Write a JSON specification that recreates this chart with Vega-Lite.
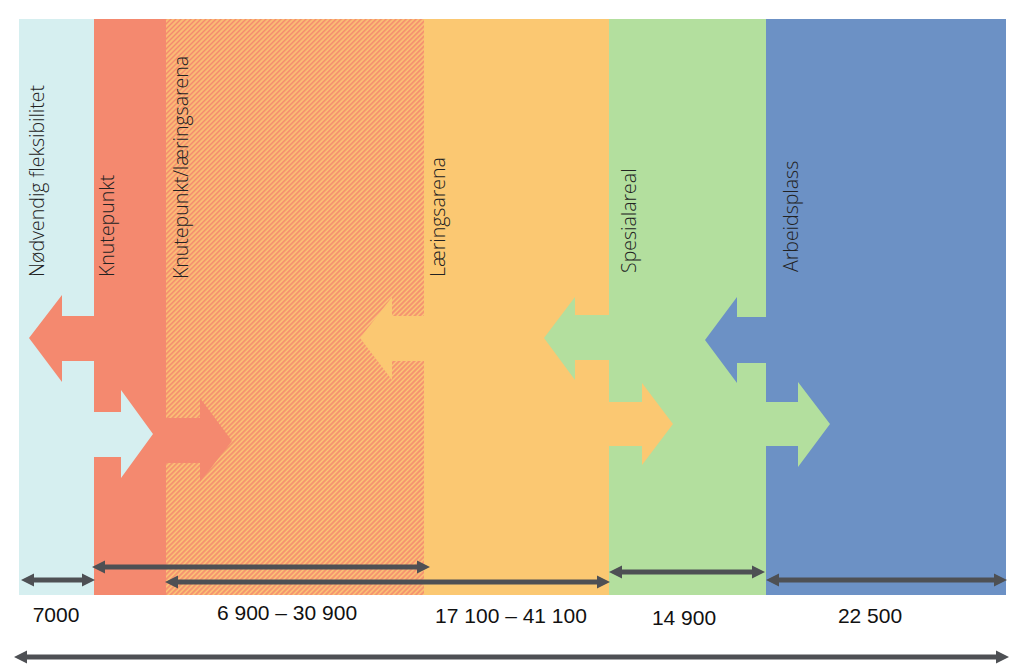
{
  "$schema": "https://vega.github.io/schema/vega-lite/v6.json",
  "width": 1024,
  "height": 672,
  "autosize": {"type": "fit", "contains": "padding"},
  "padding": 0,
  "background": "white",
  "config": {"view": {"stroke": null}},
  "datasets": {
    "bands": [
      {"name": "Nødvendig fleksibilitet", "x1": 19, "x2": 94, "y1": 19, "y2": 595},
      {"name": "Knutepunkt", "x1": 94, "x2": 166, "y1": 19, "y2": 595},
      {"name": "Læringsarena", "x1": 424, "x2": 609, "y1": 19, "y2": 595},
      {"name": "Spesialareal", "x1": 609, "x2": 766, "y1": 19, "y2": 595},
      {"name": "Arbeidsplass", "x1": 766, "x2": 1006, "y1": 19, "y2": 595}
    ],
    "hatch": [
      {"name": "Knutepunkt/læringsarena", "x1": 166, "x2": 424, "y1": 19, "y2": 595}
    ],
    "arrows": [
      {"arrow": "a1", "band": "Knutepunkt", "x": 29, "top": 338, "bottom": 338},
      {"arrow": "a1", "band": "Knutepunkt", "x": 62, "top": 295, "bottom": 382},
      {"arrow": "a1", "band": "Knutepunkt", "x": 62.01, "top": 316, "bottom": 361},
      {"arrow": "a1", "band": "Knutepunkt", "x": 95, "top": 316, "bottom": 361},
      {"arrow": "a2", "band": "Nødvendig fleksibilitet", "x": 93, "top": 412, "bottom": 457},
      {"arrow": "a2", "band": "Nødvendig fleksibilitet", "x": 121, "top": 412, "bottom": 457},
      {"arrow": "a2", "band": "Nødvendig fleksibilitet", "x": 121.01, "top": 390, "bottom": 478},
      {"arrow": "a2", "band": "Nødvendig fleksibilitet", "x": 153, "top": 434, "bottom": 434},
      {"arrow": "a3", "band": "Knutepunkt", "x": 165, "top": 418, "bottom": 463},
      {"arrow": "a3", "band": "Knutepunkt", "x": 200, "top": 418, "bottom": 463},
      {"arrow": "a3", "band": "Knutepunkt", "x": 200.01, "top": 398, "bottom": 482},
      {"arrow": "a3", "band": "Knutepunkt", "x": 232, "top": 441, "bottom": 441},
      {"arrow": "a4", "band": "Læringsarena", "x": 360, "top": 338, "bottom": 338},
      {"arrow": "a4", "band": "Læringsarena", "x": 392, "top": 297, "bottom": 380},
      {"arrow": "a4", "band": "Læringsarena", "x": 392.01, "top": 316, "bottom": 361},
      {"arrow": "a4", "band": "Læringsarena", "x": 425, "top": 316, "bottom": 361},
      {"arrow": "a5", "band": "Spesialareal", "x": 544, "top": 338, "bottom": 338},
      {"arrow": "a5", "band": "Spesialareal", "x": 575, "top": 297, "bottom": 380},
      {"arrow": "a5", "band": "Spesialareal", "x": 575.01, "top": 315, "bottom": 360},
      {"arrow": "a5", "band": "Spesialareal", "x": 610, "top": 315, "bottom": 360},
      {"arrow": "a6", "band": "Læringsarena", "x": 608, "top": 402, "bottom": 446},
      {"arrow": "a6", "band": "Læringsarena", "x": 642, "top": 402, "bottom": 446},
      {"arrow": "a6", "band": "Læringsarena", "x": 642.01, "top": 383, "bottom": 465},
      {"arrow": "a6", "band": "Læringsarena", "x": 673, "top": 424, "bottom": 424},
      {"arrow": "a7", "band": "Arbeidsplass", "x": 705, "top": 340, "bottom": 340},
      {"arrow": "a7", "band": "Arbeidsplass", "x": 737, "top": 297, "bottom": 383},
      {"arrow": "a7", "band": "Arbeidsplass", "x": 737.01, "top": 317, "bottom": 363},
      {"arrow": "a7", "band": "Arbeidsplass", "x": 767, "top": 317, "bottom": 363},
      {"arrow": "a8", "band": "Spesialareal", "x": 765, "top": 402, "bottom": 446},
      {"arrow": "a8", "band": "Spesialareal", "x": 798, "top": 402, "bottom": 446},
      {"arrow": "a8", "band": "Spesialareal", "x": 798.01, "top": 382, "bottom": 467},
      {"arrow": "a8", "band": "Spesialareal", "x": 830, "top": 424, "bottom": 424}
    ],
    "labels": [
      {"text": "Nødvendig fleksibilitet", "x": 38, "y": 277},
      {"text": "Knutepunkt", "x": 108, "y": 277},
      {"text": "Knutepunkt/læringsarena", "x": 182, "y": 279},
      {"text": "Læringsarena", "x": 439, "y": 277},
      {"text": "Spesialareal", "x": 630, "y": 273},
      {"text": "Arbeidsplass", "x": 792, "y": 272}
    ],
    "numbers": [
      {"text": "7000", "x": 56, "y": 616},
      {"text": "6 900 – 30 900", "x": 287, "y": 614},
      {"text": "17 100 – 41 100", "x": 511, "y": 617},
      {"text": "14 900", "x": 684, "y": 619},
      {"text": "22 500", "x": 870, "y": 617}
    ],
    "dims": [
      {"x1": 21, "x2": 95, "y": 580},
      {"x1": 92, "x2": 430, "y": 567},
      {"x1": 165, "x2": 610, "y": 582},
      {"x1": 609, "x2": 765, "y": 572},
      {"x1": 766, "x2": 1007, "y": 580},
      {"x1": 14, "x2": 1009, "y": 657}
    ]
  },
  "layer": [
    {
      "data": {"name": "bands"},
      "mark": {"type": "rect"},
      "encoding": {
        "x": {"field": "x1", "type": "quantitative", "scale": {"domain": [0, 1024], "nice": false, "zero": false}, "axis": null},
        "x2": {"field": "x2"},
        "y": {"field": "y1", "type": "quantitative", "scale": {"domain": [0, 672], "nice": false, "zero": false, "reverse": true}, "axis": null},
        "y2": {"field": "y2"},
        "color": {"field": "name", "type": "nominal", "legend": null,
          "scale": {"domain": ["Nødvendig fleksibilitet", "Knutepunkt", "Læringsarena", "Spesialareal", "Arbeidsplass"],
                    "range": ["#d6eff0", "#f4896f", "#fbc872", "#b3df9e", "#6c91c5"]}}
      }
    },
    {
      "data": {"name": "hatch"},
      "mark": {"type": "rect", "fill": {"gradient": "linear", "x1": 0, "y1": 0, "x2": 0.54, "y2": 1.206, "stops": [
{"offset":0,"color":"#f4896f"},{"offset":0.003,"color":"#fbc776"},{"offset":0.006,"color":"#f4896f"},{"offset":0.009,"color":"#fbc776"},{"offset":0.012,"color":"#f4896f"},{"offset":0.015,"color":"#fbc776"},{"offset":0.018,"color":"#f4896f"},{"offset":0.021,"color":"#fbc776"},{"offset":0.024,"color":"#f4896f"},{"offset":0.027,"color":"#fbc776"},
{"offset":0.03,"color":"#f4896f"},{"offset":0.033,"color":"#fbc776"},{"offset":0.036,"color":"#f4896f"},{"offset":0.039,"color":"#fbc776"},{"offset":0.042,"color":"#f4896f"},{"offset":0.045,"color":"#fbc776"},{"offset":0.048,"color":"#f4896f"},{"offset":0.051,"color":"#fbc776"},{"offset":0.054,"color":"#f4896f"},{"offset":0.057,"color":"#fbc776"},
{"offset":0.06,"color":"#f4896f"},{"offset":0.063,"color":"#fbc776"},{"offset":0.066,"color":"#f4896f"},{"offset":0.069,"color":"#fbc776"},{"offset":0.072,"color":"#f4896f"},{"offset":0.075,"color":"#fbc776"},{"offset":0.078,"color":"#f4896f"},{"offset":0.081,"color":"#fbc776"},{"offset":0.084,"color":"#f4896f"},{"offset":0.087,"color":"#fbc776"},
{"offset":0.09,"color":"#f4896f"},{"offset":0.093,"color":"#fbc776"},{"offset":0.096,"color":"#f4896f"},{"offset":0.099,"color":"#fbc776"},{"offset":0.102,"color":"#f4896f"},{"offset":0.105,"color":"#fbc776"},{"offset":0.108,"color":"#f4896f"},{"offset":0.111,"color":"#fbc776"},{"offset":0.114,"color":"#f4896f"},{"offset":0.117,"color":"#fbc776"},
{"offset":0.12,"color":"#f4896f"},{"offset":0.123,"color":"#fbc776"},{"offset":0.126,"color":"#f4896f"},{"offset":0.129,"color":"#fbc776"},{"offset":0.132,"color":"#f4896f"},{"offset":0.135,"color":"#fbc776"},{"offset":0.138,"color":"#f4896f"},{"offset":0.141,"color":"#fbc776"},{"offset":0.144,"color":"#f4896f"},{"offset":0.147,"color":"#fbc776"},
{"offset":0.15,"color":"#f4896f"},{"offset":0.153,"color":"#fbc776"},{"offset":0.156,"color":"#f4896f"},{"offset":0.159,"color":"#fbc776"},{"offset":0.162,"color":"#f4896f"},{"offset":0.165,"color":"#fbc776"},{"offset":0.168,"color":"#f4896f"},{"offset":0.171,"color":"#fbc776"},{"offset":0.174,"color":"#f4896f"},{"offset":0.177,"color":"#fbc776"},
{"offset":0.18,"color":"#f4896f"},{"offset":0.183,"color":"#fbc776"},{"offset":0.186,"color":"#f4896f"},{"offset":0.189,"color":"#fbc776"},{"offset":0.192,"color":"#f4896f"},{"offset":0.195,"color":"#fbc776"},{"offset":0.198,"color":"#f4896f"},{"offset":0.201,"color":"#fbc776"},{"offset":0.204,"color":"#f4896f"},{"offset":0.207,"color":"#fbc776"},
{"offset":0.21,"color":"#f4896f"},{"offset":0.213,"color":"#fbc776"},{"offset":0.216,"color":"#f4896f"},{"offset":0.219,"color":"#fbc776"},{"offset":0.222,"color":"#f4896f"},{"offset":0.225,"color":"#fbc776"},{"offset":0.228,"color":"#f4896f"},{"offset":0.231,"color":"#fbc776"},{"offset":0.234,"color":"#f4896f"},{"offset":0.237,"color":"#fbc776"},
{"offset":0.24,"color":"#f4896f"},{"offset":0.243,"color":"#fbc776"},{"offset":0.246,"color":"#f4896f"},{"offset":0.249,"color":"#fbc776"},{"offset":0.252,"color":"#f4896f"},{"offset":0.255,"color":"#fbc776"},{"offset":0.258,"color":"#f4896f"},{"offset":0.261,"color":"#fbc776"},{"offset":0.264,"color":"#f4896f"},{"offset":0.267,"color":"#fbc776"},
{"offset":0.27,"color":"#f4896f"},{"offset":0.273,"color":"#fbc776"},{"offset":0.276,"color":"#f4896f"},{"offset":0.279,"color":"#fbc776"},{"offset":0.282,"color":"#f4896f"},{"offset":0.285,"color":"#fbc776"},{"offset":0.288,"color":"#f4896f"},{"offset":0.291,"color":"#fbc776"},{"offset":0.294,"color":"#f4896f"},{"offset":0.297,"color":"#fbc776"},
{"offset":0.3,"color":"#f4896f"},{"offset":0.303,"color":"#fbc776"},{"offset":0.306,"color":"#f4896f"},{"offset":0.309,"color":"#fbc776"},{"offset":0.312,"color":"#f4896f"},{"offset":0.315,"color":"#fbc776"},{"offset":0.318,"color":"#f4896f"},{"offset":0.321,"color":"#fbc776"},{"offset":0.324,"color":"#f4896f"},{"offset":0.327,"color":"#fbc776"},
{"offset":0.33,"color":"#f4896f"},{"offset":0.333,"color":"#fbc776"},{"offset":0.336,"color":"#f4896f"},{"offset":0.339,"color":"#fbc776"},{"offset":0.342,"color":"#f4896f"},{"offset":0.345,"color":"#fbc776"},{"offset":0.348,"color":"#f4896f"},{"offset":0.351,"color":"#fbc776"},{"offset":0.354,"color":"#f4896f"},{"offset":0.357,"color":"#fbc776"},
{"offset":0.36,"color":"#f4896f"},{"offset":0.363,"color":"#fbc776"},{"offset":0.366,"color":"#f4896f"},{"offset":0.369,"color":"#fbc776"},{"offset":0.372,"color":"#f4896f"},{"offset":0.375,"color":"#fbc776"},{"offset":0.378,"color":"#f4896f"},{"offset":0.381,"color":"#fbc776"},{"offset":0.384,"color":"#f4896f"},{"offset":0.387,"color":"#fbc776"},
{"offset":0.39,"color":"#f4896f"},{"offset":0.393,"color":"#fbc776"},{"offset":0.396,"color":"#f4896f"},{"offset":0.399,"color":"#fbc776"},{"offset":0.402,"color":"#f4896f"},{"offset":0.405,"color":"#fbc776"},{"offset":0.408,"color":"#f4896f"},{"offset":0.411,"color":"#fbc776"},{"offset":0.414,"color":"#f4896f"},{"offset":0.417,"color":"#fbc776"},
{"offset":0.42,"color":"#f4896f"},{"offset":0.423,"color":"#fbc776"},{"offset":0.426,"color":"#f4896f"},{"offset":0.429,"color":"#fbc776"},{"offset":0.432,"color":"#f4896f"},{"offset":0.435,"color":"#fbc776"},{"offset":0.438,"color":"#f4896f"},{"offset":0.441,"color":"#fbc776"},{"offset":0.444,"color":"#f4896f"},{"offset":0.447,"color":"#fbc776"},
{"offset":0.45,"color":"#f4896f"},{"offset":0.453,"color":"#fbc776"},{"offset":0.456,"color":"#f4896f"},{"offset":0.459,"color":"#fbc776"},{"offset":0.462,"color":"#f4896f"},{"offset":0.465,"color":"#fbc776"},{"offset":0.468,"color":"#f4896f"},{"offset":0.471,"color":"#fbc776"},{"offset":0.474,"color":"#f4896f"},{"offset":0.477,"color":"#fbc776"},
{"offset":0.48,"color":"#f4896f"},{"offset":0.483,"color":"#fbc776"},{"offset":0.486,"color":"#f4896f"},{"offset":0.489,"color":"#fbc776"},{"offset":0.492,"color":"#f4896f"},{"offset":0.495,"color":"#fbc776"},{"offset":0.498,"color":"#f4896f"},{"offset":0.501,"color":"#fbc776"},{"offset":0.504,"color":"#f4896f"},{"offset":0.507,"color":"#fbc776"},
{"offset":0.51,"color":"#f4896f"},{"offset":0.513,"color":"#fbc776"},{"offset":0.516,"color":"#f4896f"},{"offset":0.519,"color":"#fbc776"},{"offset":0.522,"color":"#f4896f"},{"offset":0.525,"color":"#fbc776"},{"offset":0.528,"color":"#f4896f"},{"offset":0.531,"color":"#fbc776"},{"offset":0.534,"color":"#f4896f"},{"offset":0.537,"color":"#fbc776"},
{"offset":0.54,"color":"#f4896f"},{"offset":0.543,"color":"#fbc776"},{"offset":0.546,"color":"#f4896f"},{"offset":0.549,"color":"#fbc776"},{"offset":0.552,"color":"#f4896f"},{"offset":0.555,"color":"#fbc776"},{"offset":0.558,"color":"#f4896f"},{"offset":0.561,"color":"#fbc776"},{"offset":0.564,"color":"#f4896f"},{"offset":0.567,"color":"#fbc776"},
{"offset":0.57,"color":"#f4896f"},{"offset":0.573,"color":"#fbc776"},{"offset":0.576,"color":"#f4896f"},{"offset":0.579,"color":"#fbc776"},{"offset":0.582,"color":"#f4896f"},{"offset":0.585,"color":"#fbc776"},{"offset":0.588,"color":"#f4896f"},{"offset":0.591,"color":"#fbc776"},{"offset":0.594,"color":"#f4896f"},{"offset":0.597,"color":"#fbc776"},
{"offset":0.6,"color":"#f4896f"},{"offset":0.603,"color":"#fbc776"},{"offset":0.606,"color":"#f4896f"},{"offset":0.609,"color":"#fbc776"},{"offset":0.612,"color":"#f4896f"},{"offset":0.615,"color":"#fbc776"},{"offset":0.618,"color":"#f4896f"},{"offset":0.621,"color":"#fbc776"},{"offset":0.624,"color":"#f4896f"},{"offset":0.627,"color":"#fbc776"},
{"offset":0.63,"color":"#f4896f"},{"offset":0.633,"color":"#fbc776"},{"offset":0.636,"color":"#f4896f"},{"offset":0.639,"color":"#fbc776"},{"offset":0.642,"color":"#f4896f"},{"offset":0.645,"color":"#fbc776"},{"offset":0.648,"color":"#f4896f"},{"offset":0.651,"color":"#fbc776"},{"offset":0.654,"color":"#f4896f"},{"offset":0.657,"color":"#fbc776"},
{"offset":0.66,"color":"#f4896f"},{"offset":0.663,"color":"#fbc776"},{"offset":0.666,"color":"#f4896f"},{"offset":0.669,"color":"#fbc776"},{"offset":0.672,"color":"#f4896f"},{"offset":0.675,"color":"#fbc776"},{"offset":0.678,"color":"#f4896f"},{"offset":0.681,"color":"#fbc776"},{"offset":0.684,"color":"#f4896f"},{"offset":0.687,"color":"#fbc776"},
{"offset":0.69,"color":"#f4896f"},{"offset":0.693,"color":"#fbc776"},{"offset":0.696,"color":"#f4896f"},{"offset":0.699,"color":"#fbc776"},{"offset":0.702,"color":"#f4896f"},{"offset":0.705,"color":"#fbc776"},{"offset":0.708,"color":"#f4896f"},{"offset":0.711,"color":"#fbc776"},{"offset":0.714,"color":"#f4896f"},{"offset":0.717,"color":"#fbc776"},
{"offset":0.72,"color":"#f4896f"},{"offset":0.723,"color":"#fbc776"},{"offset":0.726,"color":"#f4896f"},{"offset":0.729,"color":"#fbc776"},{"offset":0.732,"color":"#f4896f"},{"offset":0.735,"color":"#fbc776"},{"offset":0.738,"color":"#f4896f"},{"offset":0.741,"color":"#fbc776"},{"offset":0.744,"color":"#f4896f"},{"offset":0.747,"color":"#fbc776"},
{"offset":0.75,"color":"#f4896f"},{"offset":0.753,"color":"#fbc776"},{"offset":0.756,"color":"#f4896f"},{"offset":0.759,"color":"#fbc776"},{"offset":0.762,"color":"#f4896f"},{"offset":0.765,"color":"#fbc776"},{"offset":0.768,"color":"#f4896f"},{"offset":0.771,"color":"#fbc776"},{"offset":0.774,"color":"#f4896f"},{"offset":0.777,"color":"#fbc776"},
{"offset":0.78,"color":"#f4896f"},{"offset":0.783,"color":"#fbc776"},{"offset":0.786,"color":"#f4896f"},{"offset":0.789,"color":"#fbc776"},{"offset":0.792,"color":"#f4896f"},{"offset":0.795,"color":"#fbc776"},{"offset":0.798,"color":"#f4896f"},{"offset":0.801,"color":"#fbc776"},{"offset":0.804,"color":"#f4896f"},{"offset":0.807,"color":"#fbc776"},
{"offset":0.81,"color":"#f4896f"},{"offset":0.813,"color":"#fbc776"},{"offset":0.816,"color":"#f4896f"},{"offset":0.819,"color":"#fbc776"},{"offset":0.822,"color":"#f4896f"},{"offset":0.825,"color":"#fbc776"},{"offset":0.828,"color":"#f4896f"},{"offset":0.831,"color":"#fbc776"},{"offset":0.834,"color":"#f4896f"},{"offset":0.837,"color":"#fbc776"},
{"offset":0.84,"color":"#f4896f"},{"offset":0.843,"color":"#fbc776"},{"offset":0.846,"color":"#f4896f"},{"offset":0.849,"color":"#fbc776"},{"offset":0.852,"color":"#f4896f"},{"offset":0.855,"color":"#fbc776"},{"offset":0.858,"color":"#f4896f"},{"offset":0.861,"color":"#fbc776"},{"offset":0.864,"color":"#f4896f"},{"offset":0.867,"color":"#fbc776"},
{"offset":0.87,"color":"#f4896f"},{"offset":0.873,"color":"#fbc776"},{"offset":0.876,"color":"#f4896f"},{"offset":0.879,"color":"#fbc776"},{"offset":0.882,"color":"#f4896f"},{"offset":0.885,"color":"#fbc776"},{"offset":0.888,"color":"#f4896f"},{"offset":0.891,"color":"#fbc776"},{"offset":0.894,"color":"#f4896f"},{"offset":0.897,"color":"#fbc776"},
{"offset":0.9,"color":"#f4896f"},{"offset":0.903,"color":"#fbc776"},{"offset":0.906,"color":"#f4896f"},{"offset":0.909,"color":"#fbc776"},{"offset":0.912,"color":"#f4896f"},{"offset":0.915,"color":"#fbc776"},{"offset":0.918,"color":"#f4896f"},{"offset":0.921,"color":"#fbc776"},{"offset":0.924,"color":"#f4896f"},{"offset":0.927,"color":"#fbc776"},
{"offset":0.93,"color":"#f4896f"},{"offset":0.933,"color":"#fbc776"},{"offset":0.936,"color":"#f4896f"},{"offset":0.939,"color":"#fbc776"},{"offset":0.942,"color":"#f4896f"},{"offset":0.945,"color":"#fbc776"},{"offset":0.948,"color":"#f4896f"},{"offset":0.951,"color":"#fbc776"},{"offset":0.954,"color":"#f4896f"},{"offset":0.957,"color":"#fbc776"},
{"offset":0.96,"color":"#f4896f"},{"offset":0.963,"color":"#fbc776"},{"offset":0.966,"color":"#f4896f"},{"offset":0.969,"color":"#fbc776"},{"offset":0.972,"color":"#f4896f"},{"offset":0.975,"color":"#fbc776"},{"offset":0.978,"color":"#f4896f"},{"offset":0.981,"color":"#fbc776"},{"offset":0.984,"color":"#f4896f"},{"offset":0.987,"color":"#fbc776"},
{"offset":0.99,"color":"#f4896f"},{"offset":0.993,"color":"#fbc776"},{"offset":0.996,"color":"#f4896f"},{"offset":0.999,"color":"#fbc776"},{"offset":1,"color":"#f4896f"}
      ]}},
      "encoding": {
        "x": {"field": "x1", "type": "quantitative", "scale": {"domain": [0, 1024], "nice": false, "zero": false}, "axis": null},
        "x2": {"field": "x2"},
        "y": {"field": "y1", "type": "quantitative", "scale": {"domain": [0, 672], "nice": false, "zero": false, "reverse": true}, "axis": null},
        "y2": {"field": "y2"}
      }
    },
    {
      "data": {"name": "arrows"},
      "mark": {"type": "area", "interpolate": "linear", "opacity": 1},
      "encoding": {
        "x": {"field": "x", "type": "quantitative", "scale": {"domain": [0, 1024], "nice": false, "zero": false}, "axis": null},
        "y": {"field": "top", "type": "quantitative", "scale": {"domain": [0, 672], "nice": false, "zero": false, "reverse": true}, "axis": null},
        "y2": {"field": "bottom"},
        "detail": {"field": "arrow", "type": "nominal"},
        "color": {"field": "band", "type": "nominal", "legend": null,
          "scale": {"domain": ["Nødvendig fleksibilitet", "Knutepunkt", "Læringsarena", "Spesialareal", "Arbeidsplass"],
                    "range": ["#d6eff0", "#f4896f", "#fbc872", "#b3df9e", "#6c91c5"]}}
      }
    },
    {
      "data": {"name": "labels"},
      "mark": {"type": "text", "angle": 270, "align": "left", "baseline": "middle", "font": "Open Sans", "fontSize": 19.5, "fontWeight": 300, "color": "#222222"},
      "encoding": {
        "x": {"field": "x", "type": "quantitative", "scale": {"domain": [0, 1024], "nice": false, "zero": false}, "axis": null},
        "y": {"field": "y", "type": "quantitative", "scale": {"domain": [0, 672], "nice": false, "zero": false, "reverse": true}, "axis": null},
        "text": {"field": "text"}
      }
    },
    {
      "data": {"name": "numbers"},
      "mark": {"type": "text", "align": "center", "baseline": "middle", "font": "Liberation Sans", "fontSize": 21, "color": "#111111"},
      "encoding": {
        "x": {"field": "x", "type": "quantitative", "scale": {"domain": [0, 1024], "nice": false, "zero": false}, "axis": null},
        "y": {"field": "y", "type": "quantitative", "scale": {"domain": [0, 672], "nice": false, "zero": false, "reverse": true}, "axis": null},
        "text": {"field": "text"}
      }
    },
    {
      "data": {"name": "dims"},
      "mark": {"type": "rule", "strokeWidth": 5, "color": "#4e5054", "xOffset": 6, "x2Offset": -6},
      "encoding": {
        "x": {"field": "x1", "type": "quantitative", "scale": {"domain": [0, 1024], "nice": false, "zero": false}, "axis": null},
        "x2": {"field": "x2"},
        "y": {"field": "y", "type": "quantitative", "scale": {"domain": [0, 672], "nice": false, "zero": false, "reverse": true}, "axis": null}
      }
    },
    {
      "data": {"name": "dims"},
      "mark": {"type": "point", "shape": "M0,0L1,-0.5L1,0.5Z", "size": 676, "filled": true, "opacity": 1, "strokeWidth": 0, "color": "#4e5054"},
      "encoding": {
        "x": {"field": "x1", "type": "quantitative", "scale": {"domain": [0, 1024], "nice": false, "zero": false}, "axis": null},
        "y": {"field": "y", "type": "quantitative", "scale": {"domain": [0, 672], "nice": false, "zero": false, "reverse": true}, "axis": null}
      }
    },
    {
      "data": {"name": "dims"},
      "mark": {"type": "point", "shape": "M0,0L-1,-0.5L-1,0.5Z", "size": 676, "filled": true, "opacity": 1, "strokeWidth": 0, "color": "#4e5054"},
      "encoding": {
        "x": {"field": "x2", "type": "quantitative", "scale": {"domain": [0, 1024], "nice": false, "zero": false}, "axis": null},
        "y": {"field": "y", "type": "quantitative", "scale": {"domain": [0, 672], "nice": false, "zero": false, "reverse": true}, "axis": null}
      }
    }
  ]
}
